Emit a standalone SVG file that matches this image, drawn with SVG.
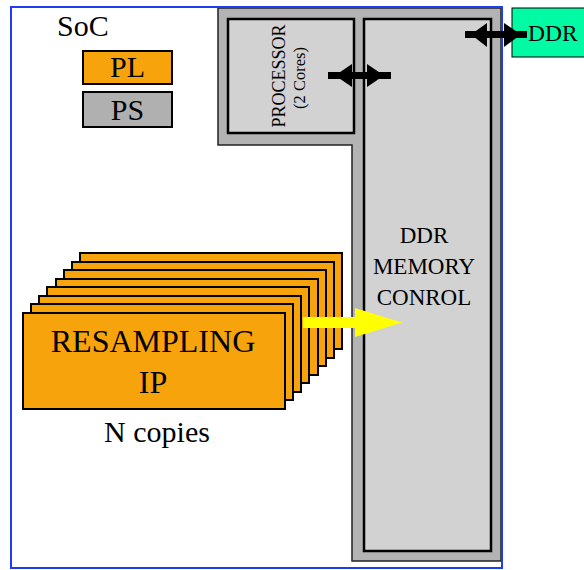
<svg xmlns="http://www.w3.org/2000/svg" width="584" height="570" viewBox="0 0 584 570">
<style>
.serif{font-family:"Liberation Serif","Times New Roman",serif;fill:#000}
.ip{fill:#f7a30b;stroke:#000;stroke-width:2}
.inner{fill:#d2d2d2;stroke:#000;stroke-width:2.5}
.bar{stroke:#000;stroke-width:7;fill:none}
.head{fill:#000}
</style>
<rect width="584" height="570" fill="#fff"/>
<g id="soc">
  <rect x="11" y="7" width="491" height="561" fill="#fff"/>
  <text class="serif" x="57" y="36" font-size="30">SoC</text>
</g>
<g id="legend">
  <rect x="83" y="51" width="89" height="33" class="ip"/>
  <text class="serif" x="127.5" y="77" font-size="30" text-anchor="middle">PL</text>
  <rect x="83" y="92" width="89" height="35" fill="#b0b0b0" stroke="#000" stroke-width="2"/>
  <text class="serif" x="127.5" y="120" font-size="30" text-anchor="middle">PS</text>
</g>
<g id="ps">
  <path d="M218,8 H501 V561 H352 V145 H218 Z" fill="#b3b3b3" stroke="#222" stroke-width="1.5"/>
</g>
<g id="processor">
  <rect x="228" y="19" width="126" height="114" class="inner"/>
  <text class="serif" font-size="18" text-anchor="middle" transform="translate(285,76) rotate(-90)">PROCESSOR</text>
  <text class="serif" font-size="16.5" text-anchor="middle" transform="translate(305,78) rotate(-90)">(2 Cores)</text>
</g>
<g id="ddr-control">
  <rect x="364" y="19" width="127" height="532" class="inner"/>
  <text class="serif" font-size="23" text-anchor="middle" x="424" y="243">DDR</text>
  <text class="serif" font-size="23" text-anchor="middle" x="424" y="274">MEMORY</text>
  <text class="serif" font-size="23" text-anchor="middle" x="424" y="305">CONROL</text>
</g>
<rect x="11" y="7" width="491" height="561" fill="none" stroke="#1e3cf5" stroke-width="2"/>
<g id="ddr">
  <rect x="512" y="8" width="74" height="49" fill="#00fba4" stroke="#000" stroke-width="1"/>
  <text class="serif" x="528" y="41" font-size="23.5">DDR</text>
</g>
<g id="resampling">
  <rect x="80" y="253" width="262" height="96" class="ip"/>
  <rect x="72" y="262" width="262" height="96" class="ip"/>
  <rect x="64" y="270" width="262" height="96" class="ip"/>
  <rect x="56" y="279" width="262" height="96" class="ip"/>
  <rect x="47" y="287" width="262" height="96" class="ip"/>
  <rect x="39" y="296" width="262" height="96" class="ip"/>
  <rect x="31" y="304" width="262" height="96" class="ip"/>
  <rect x="23" y="313" width="262" height="96" class="ip"/>
  <text class="serif" font-size="32" text-anchor="middle" x="153" y="352">RESAMPLING</text>
  <text class="serif" font-size="32" text-anchor="middle" x="153" y="393">IP</text>
  <text class="serif" font-size="30" text-anchor="middle" x="157" y="442">N copies</text>
</g>
<g id="connectors">
  <line x1="328" y1="75.5" x2="391" y2="75.5" class="bar"/>
  <polygon class="head" points="335,75.5 352,64 352,87"/>
  <polygon class="head" points="384,75.5 367,64 367,87"/>
  <line x1="465" y1="34.5" x2="527" y2="34.5" class="bar" stroke-width="8"/>
  <polygon class="head" points="471,34.5 487,23 487,47"/>
  <polygon class="head" points="521,34.5 504,23 504,47"/>
  <line x1="303" y1="322.5" x2="358" y2="322.5" stroke="#ffff00" stroke-width="11"/>
  <polygon fill="#ffff00" points="402,322.5 355,308 355,337"/>
</g>
</svg>
